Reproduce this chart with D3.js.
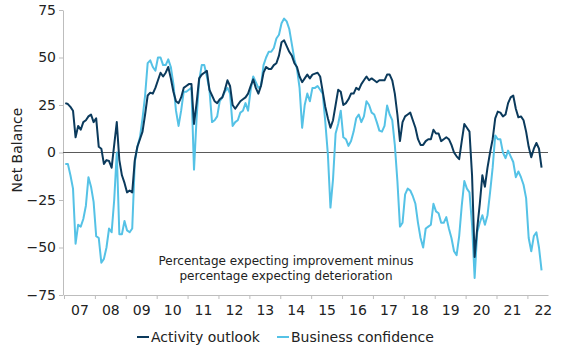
<!DOCTYPE html>
<html lang="en">
<head>
<meta charset="UTF-8">
<title>Net Balance</title>
<script src="https://cdn.jsdelivr.net/npm/d3@7"></script>
<style>
  body { margin: 0; background: #fff; }
  text { font-family: "DejaVu Sans", Verdana, sans-serif; fill: #222; }
</style>
</head>
<body>
<script>
// monthly values, Jan 2007 - Jun 2022
var activityOutlook = [
  26, 25.5, 24, 22, 8, 14, 12, 16, 17, 19,
  20, 16, 18, 3, 2, -6, -4, -4.5, -8, 4,
  16, -4, -12, -16, -21, -20, -21, -4, 3, 7,
  11, 20, 30, 31.5, 31, 34, 38, 42, 40, 42,
  45, 39, 32, 27, 26, 29, 34, 35, 36, 36,
  15, 26, 39, 41, 42, 43, 33, 30, 27, 26,
  28, 29, 33, 38, 35, 25, 23, 25, 27, 28,
  29, 31, 35, 38.5, 34, 31, 35, 42, 45, 44,
  44, 46, 47, 51, 58, 59, 56, 53, 51, 47,
  45, 40, 37, 39, 41, 39, 41, 41.5, 42, 40,
  32, 24, 18, 13, 17, 25, 33, 32, 25, 26,
  28, 31, 31, 34, 33, 36, 38, 40, 38, 39,
  38, 37, 38, 38, 38, 41, 41, 38, 31, 20,
  6, 16, 19, 20, 21, 17, 13, 7, 4, 4,
  6, 7, 7, 12, 10, 10, 6, 7, 8, 7,
  4, 0, -2, -3.5, 6, 15, 13, 11, -12, -55,
  -40, -27, -12, -18, -8, 0, 7, 18, 21.5, 21,
  19, 20, 26, 29, 30, 23, 18.5, 19, 17, 11,
  3, -2.5, 2, 5, 2, -8
];
var businessConfidence = [
  -6, -6, -12, -19, -48, -38, -39, -35, -28, -13,
  -18, -26, -44, -45, -58, -56, -50, -40, -42, -25,
  0, -43, -43, -36, -41, -42, -40, -5, 3, 8,
  18, 30, 47, 48.5, 45, 43, 50, 50, 46, 46,
  49, 45, 36, 22, 14, 22, 32, 32, 33, 34,
  -9, 18, 38, 46, 46, 40, 33, 16, 17, 19,
  27, 29, 32, 34, 31, 14, 16, 17, 21, 22,
  26, 22, 33, 40, 37, 34, 35, 46, 50, 53,
  53, 55, 60, 62, 68, 70.5, 69, 65, 57, 49,
  44, 34, 13, 25, 31, 27, 34, 34, 35, 33,
  31, 16, -1, -29, -14, 10, 15, 22, 8, 7,
  3.5, 6, 11, 18, 20, 16, 19, 27, 25, 21,
  20, 16, 11.5, 11, 14, 24.7, 20, 17, 4, -15,
  -39, -37, -22, -19, -20, -23, -27, -37, -45, -50,
  -40, -39, -38, -27, -31, -32, -37, -37, -34, -40,
  -45, -52, -54, -44, -28, -15, -19, -21, -38, -66,
  -42, -37, -33, -38, -33, -21, -8, 9, 7, 7,
  0, -3, 1, -2, -5, -13, -10, -13, -17, -24,
  -45, -52, -44, -42, -50, -62
];
var yearLabels = ["07", "08", "09", "10", "11", "12", "13", "14",
                  "15", "16", "17", "18", "19", "20", "21", "22"];
var yTicks = [75, 50, 25, 0, -25, -50, -75];
var seriesNames = ["Activity outlook", "Business confidence"];
var colors = ["#0b3a5c", "#55c2e6"];

var width = 568, height = 351;
var svg = d3.select("body").append("svg")
    .attr("width", width)
    .attr("height", height);

// scales: x in months since Jan 2007
var x = d3.scaleLinear().domain([0, 188]).range([64, 548]);
var y = d3.scaleLinear().domain([-75, 75]).range([295, 10]);

// left axis
var yAxis = svg.append("g")
    .attr("transform", "translate(63,0)")
    .call(d3.axisLeft(y).tickValues(yTicks).tickSize(4).tickPadding(3).tickSizeOuter(0));
yAxis.select(".domain").attr("stroke", "#bdbdbd");
yAxis.selectAll(".tick line").attr("stroke", "#bdbdbd");
yAxis.selectAll(".tick text").attr("font-size", 14).attr("fill", "#222")
    .attr("font-family", "DejaVu Sans");

// bottom axis: year boundary ticks
var xAxis = svg.append("g")
    .attr("transform", "translate(0,295)")
    .call(d3.axisBottom(x).tickValues(d3.range(0, 181, 12)).tickSize(4)
        .tickFormat("").tickSizeOuter(0));
xAxis.select(".domain").attr("stroke", "#bdbdbd");
xAxis.selectAll(".tick line").attr("stroke", "#bdbdbd");

// year labels centred in each year
var xLabels = svg.append("g")
    .attr("transform", "translate(0,295)")
    .call(d3.axisBottom(x).tickValues(d3.range(6, 187, 12)).tickSize(0).tickPadding(10)
        .tickFormat(function(d, i) { return yearLabels[i]; }));
xLabels.select(".domain").remove();
xLabels.selectAll(".tick text").attr("font-size", 14).attr("fill", "#222")
    .attr("font-family", "DejaVu Sans");

// zero line
svg.append("line")
    .attr("x1", x(0) - 1).attr("x2", x(188))
    .attr("y1", y(0)).attr("y2", y(0))
    .attr("stroke", "#5a5a5a").attr("stroke-width", 1);

// lines
var line = d3.line()
    .x(function(d, i) { return x(i + 0.5); })
    .y(function(d) { return y(d); });

svg.append("path").datum(businessConfidence)
    .attr("fill", "none").attr("stroke", colors[1]).attr("stroke-width", 2)
    .attr("stroke-linejoin", "round").attr("d", line);
svg.append("path").datum(activityOutlook)
    .attr("fill", "none").attr("stroke", colors[0]).attr("stroke-width", 2)
    .attr("stroke-linejoin", "round").attr("d", line);

// y title
svg.append("text")
    .attr("transform", "translate(22,150) rotate(-90)")
    .attr("text-anchor", "middle")
    .attr("font-size", 14)
    .text("Net Balance");

// note
var note = svg.append("text")
    .attr("text-anchor", "middle")
    .attr("font-size", 12)
    .attr("fill", "#333");
note.append("tspan").attr("x", 286).attr("y", 265).text("Percentage expecting improvement minus");
note.append("tspan").attr("x", 286).attr("y", 280).text("percentage expecting deterioration");

// legend
var legend = svg.append("g");
var legendX = [137, 277];
seriesNames.forEach(function(name, i) {
  legend.append("line")
      .attr("x1", legendX[i]).attr("x2", legendX[i] + 12)
      .attr("y1", 337).attr("y2", 337)
      .attr("stroke", colors[i]).attr("stroke-width", 2);
  legend.append("text")
      .attr("x", legendX[i] + 14).attr("y", 342)
      .attr("font-size", 14)
      .text(name);
});
</script>
</body>
</html>
